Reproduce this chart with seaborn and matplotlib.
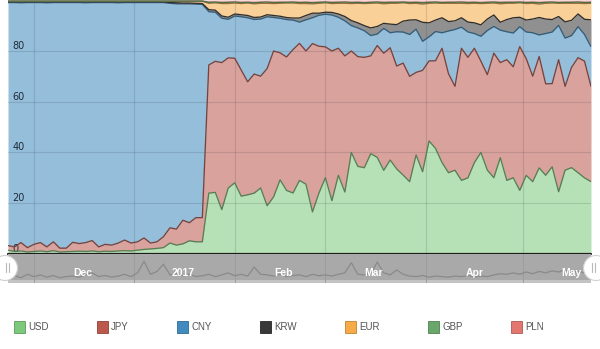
import numpy as np
import pandas as pd
import matplotlib
matplotlib.use("Agg")
import matplotlib.pyplot as plt
import matplotlib.patches as mpatches
import matplotlib.colors as mcolors
from matplotlib.transforms import blended_transform_factory
import seaborn as sns

sns.set_theme(style="white")
plt.rcParams['font.family'] = ['Liberation Sans Narrow', 'Liberation Sans', 'DejaVu Sans']

# ---- data: shares (%) of trading volume by currency, 2-day steps ----
dates = pd.date_range("2016-11-23", periods=91, freq="2D")

currencies = ["USD", "JPY", "CNY", "KRW", "EUR", "GBP", "PLN"]

usd = [1.5, 1.0, 1.2, 0.8, 1.0, 1.2, 0.9, 1.3, 0.8, 0.9,
       1.0, 1.1, 1.0, 1.2, 0.9, 1.1, 1.0, 1.2, 1.3, 1.2,
       1.5, 1.8, 2.0, 2.2, 2.5, 4.3, 3.5, 4.0, 5.2, 4.8,
       4.8, 24, 24.2, 17.5, 26, 28, 22.8, 23.3, 24, 26,
       19, 22.5, 29.2, 25, 24, 29, 27.5, 16.6, 24, 30,
       21, 31, 24.4, 40, 34.5, 34, 39.5, 38, 33, 37,
       33.5, 31, 28.5, 39, 32.5, 44.5, 41.5, 36, 32, 33,
       29, 30, 36, 40, 33, 30, 38, 29, 30, 25,
       31, 28.5, 34, 31, 34.3, 24.5, 33, 34, 32, 30,
       28.5]

jpy = [1.8, 1.8, 3.3, 1.7, 2.8, 3.3, 1.9, 3.5, 1.5, 1.4,
       3.6, 3.0, 3.5, 4.1, 1.9, 2.7, 2.5, 3.1, 4.2, 3.1,
       3.3, 4.5, 2.3, 2.6, 4.3, 6.0, 6.3, 9.3, 7.1, 9.5,
       9.5, 50.5, 51.5, 58, 51.3, 49, 49.7, 44.5, 47, 44,
       54, 57.5, 50, 52.5, 56.4, 54, 52.5, 66.4, 57.8, 51.4,
       59, 50, 53.6, 40, 43.2, 43.5, 38.5, 44, 46.2, 44.2,
       40.5, 44, 41.5, 32.5, 40, 31.5, 34.5, 45, 39, 33,
       52, 47.5, 45, 36, 37.6, 49, 37.5, 47.5, 43.7, 56.5,
       46, 41.5, 44, 36, 32.7, 52, 33, 39.5, 45.3, 46,
       37.5]

cny = [95.7, 96.2, 94.6, 96.5, 95.2, 94.6, 96.2, 94.2, 96.8, 96.7,
       94.4, 95.0, 94.5, 93.7, 96.3, 95.2, 95.5, 94.7, 93.6, 94.7,
       94.2, 92.6, 94.7, 94.1, 92.0, 88.4, 88.8, 85.2, 86.2, 84.1,
       84.0, 21, 19.3, 17.5, 15.2, 16.6, 21, 25.2, 21.5, 22.5,
       20.4, 13.2, 13.6, 14.7, 11.6, 8.4, 12.3, 10.2, 12.2, 12.8,
       14.2, 12.2, 13.8, 10, 11.3, 10.5, 8, 4.5, 9.8, 5.9,
       13.5, 12.2, 16.5, 17, 11.5, 9.5, 11.5, 6.1, 16.8, 22.4,
       8.3, 10, 5.8, 9.8, 17.4, 10.5, 12.8, 11, 13.3, 7.8,
       10.5, 17.1, 8.5, 19.8, 20.3, 13.5, 19, 12.5, 12.2, 10.5,
       15.6]

krw = [0.3, 0.3, 0.4, 0.3, 0.3, 0.3, 0.4, 0.3, 0.3, 0.3,
       0.3, 0.3, 0.4, 0.3, 0.3, 0.3, 0.3, 0.4, 0.3, 0.3,
       0.3, 0.3, 0.3, 0.3, 0.3, 0.3, 0.4, 0.3, 0.3, 0.3,
       0.3, 0.8, 0.8, 0.9, 0.8, 0.8, 0.8, 0.9, 0.8, 0.8,
       0.8, 0.8, 0.8, 0.8, 0.8, 1.6, 1.7, 1.8, 0.8, 0.8,
       1.0, 1.3, 1.7, 2.0, 2.0, 2.0, 3.0, 3.0, 2.0, 3.4,
       2.8, 4.3, 5.7, 3.7, 7.5, 5.5, 4.5, 5.9, 3.7, 3.4,
       3.7, 3.9, 4.2, 4.5, 4.5, 4.5, 3.1, 4.8, 6.0, 3.7,
       4.7, 5.4, 6.9, 5.7, 4.9, 3.5, 6.4, 6.0, 5.0, 6.0,
       10.6]

eur = [0.2, 0.2, 0.2, 0.2, 0.2, 0.2, 0.2, 0.2, 0.2, 0.2,
       0.2, 0.2, 0.2, 0.2, 0.2, 0.2, 0.2, 0.2, 0.2, 0.2,
       0.2, 0.2, 0.2, 0.2, 0.2, 0.5, 0.6, 0.7, 0.7, 0.8,
       0.9, 2.5, 2.9, 4.9, 5.4, 4.3, 4.4, 4.9, 5.4, 5.4,
       4.5, 4.7, 5.1, 5.7, 5.9, 5.7, 4.7, 3.7, 3.9, 3.7,
       3.5, 4.2, 5.2, 6.7, 7.7, 8.7, 9.7, 9.2, 7.7, 8.2,
       8.4, 7.2, 6.5, 6.5, 7.2, 7.7, 6.7, 5.7, 7.2, 6.9,
       5.7, 7.3, 7.7, 8.4, 6.2, 4.7, 7.3, 6.4, 5.7, 5.7,
       6.5, 6.2, 5.3, 6.2, 6.5, 5.2, 7.3, 6.7, 4.2, 6.2,
       6.5]

gbp = [0.1] * 31 + [
       0.4, 0.3, 0.4, 0.5, 0.4, 0.4, 0.3, 0.4, 0.4,
       0.5, 0.4, 0.4, 0.3, 0.4, 0.4, 0.5, 0.4, 0.4, 0.3,
       0.4, 0.4, 0.5, 0.4, 0.4, 0.3, 0.4, 0.4, 0.5, 0.4,
       0.4, 0.3, 0.4, 0.4, 0.5, 0.4, 0.4, 0.3, 0.4, 0.4,
       0.5, 0.4, 0.4, 0.3, 0.4, 0.4, 0.5, 0.4, 0.4, 0.3,
       0.4, 0.4, 0.5, 0.4, 0.4, 0.3, 0.4, 0.4, 0.5, 0.4,
       0.4]

pln = [0.4] * 31 + [
       0.9, 0.8, 1.0, 0.9, 0.8, 1.0, 0.9, 1.1, 0.9,
       0.8, 1.0, 0.9, 0.9, 0.8, 1.0, 0.9, 1.1, 0.9, 0.8,
       1.0, 0.9, 0.8, 1.0, 0.9, 1.1, 0.9, 0.8, 1.0, 0.9,
       0.9, 0.8, 1.0, 0.9, 1.1, 0.9, 0.8, 1.0, 0.9, 0.9,
       0.8, 1.0, 0.9, 1.1, 0.9, 0.8, 1.0, 0.9, 0.9, 0.8,
       1.0, 0.9, 1.1, 0.9, 0.8, 1.0, 0.9, 0.9, 0.8, 1.0,
       0.9]

# overall volume shown in the range navigator (relative units)
nav_volume = [20, 25, 18, 30, 22, 28, 20, 26, 18, 22,
              24, 20, 28, 35, 22, 26, 20, 24, 30, 22,
              35, 75, 30, 40, 65, 28, 32, 25, 30, 22,
              25, 30, 22, 28, 35, 25, 30, 24, 55, 30,
              28, 24, 30, 22, 26, 28, 22, 30, 25, 28,
              24, 30, 35, 70, 30, 28, 32, 72, 35, 28,
              45, 30, 24, 22, 26, 20, 24, 22, 20, 24,
              22, 26, 20, 24, 22, 28, 32, 30, 35, 30,
              38, 32, 40, 35, 42, 38, 45, 36, 40, 35,
              32]

y_ticks = [0, 20, 40, 60, 80]
colors = ["#6ec46e", "#b5473a", "#2c7fb8", "#222222", "#f7a234", "#5a9e5a", "#e0675e"]

df = pd.DataFrame({"USD": usd, "JPY": jpy, "CNY": cny, "KRW": krw,
                   "EUR": eur, "GBP": gbp, "PLN": pln}, index=dates)
shares = df.div(df.sum(axis=1), axis=0) * 100  # percent stacking
cum = shares.cumsum(axis=1)


def mix(c1, c2, t):
    a = np.array(mcolors.to_rgb(c1))
    b = np.array(mcolors.to_rgb(c2))
    return tuple(a * (1 - t) + b * t)


fig = plt.figure(figsize=(6, 3.49), dpi=100)
fig.patch.set_facecolor("white")

# ---- main stacked area ----
ax = fig.add_axes([8 / 600, 1 - 254 / 349, 583 / 600, 254 / 349])
ax.stackplot(shares.index, shares.T.values, colors=colors, alpha=0.5, linewidth=0, zorder=1)
for name, col in zip(currencies[:-1], colors[:-1]):
    ax.plot(cum.index, cum[name], color=mix(col, "#3c3c3c", 0.5), lw=0.95, zorder=3)

month_starts = pd.date_range("2016-12-01", "2017-05-01", freq="MS")
ax.set_xlim(dates[0], dates[-1])
ax.set_ylim(0, 100)
ax.set_xticks(month_starts)
ax.set_xticklabels([])
ax.tick_params(axis="x", length=0)
ax.set_yticks(y_ticks)
ax.set_yticklabels([str(v) for v in y_ticks])
ax.tick_params(axis="y", length=0, pad=-3, labelsize=7, labelcolor="#1f2b38")
for lab in ax.get_yticklabels():
    lab.set_horizontalalignment("left")
    lab.set_verticalalignment("bottom")
    lab.set_fontfamily("DejaVu Sans")
ax.grid(True, color="#3a4650", alpha=0.18, lw=0.8)
ax.set_axisbelow(False)
for s in ax.spines.values():
    s.set_visible(False)
ax.axhline(0, color="#1e1e1e", lw=1.6, clip_on=False, zorder=6)

# ---- range navigator ----
axn = fig.add_axes([8 / 600, 1 - 283 / 349, 583 / 600, 29 / 349])
axn.set_facecolor("#a9a9a9")
axn.axhspan(0, 10, color="#c3c3c3", lw=0, zorder=0)
sns.lineplot(x=dates, y=nav_volume, ax=axn, color="#8a8a8a", lw=0.9)
axn.set_xlim(dates[0], dates[-1])
axn.set_ylim(0, 100)
axn.set_xticks(month_starts)
axn.set_xticklabels([])
axn.set_yticks([])
axn.tick_params(length=0)
axn.grid(True, axis="x", color="#9c9c9c", lw=0.7)
axn.set_xlabel("")
axn.set_ylabel("")
for s in axn.spines.values():
    s.set_visible(False)
mid_month = pd.to_datetime(["2016-12-16", "2017-01-16", "2017-02-16",
                            "2017-03-16", "2017-04-16", "2017-05-16"])
nav_labels = ["Dec", "2017", "Feb", "Mar", "Apr", "May"]
trans = blended_transform_factory(axn.transData, axn.transAxes)
for d, t in zip(mid_month, nav_labels):
    axn.text(d, 0.36, t, transform=trans, ha="center", va="center",
             color="white", fontsize=7.5, fontweight="bold")

# ---- navigator handles ----
ov = fig.add_axes([0, 0, 1, 1], zorder=10)
ov.set_xlim(0, 600)
ov.set_ylim(349, 0)
ov.axis("off")
ov.patch.set_alpha(0)
for cx, bars in [(5, (6.3, 8.6)), (596, (592.4, 594.7))]:
    ov.add_patch(mpatches.Circle((cx, 268), 12.5, facecolor="white",
                                 edgecolor="#d0d0d0", lw=0.8))
    for bx in bars:
        ov.plot([bx, bx], [263, 272], color="#b8b8b8", lw=0.8)

# ---- legend ----
handles = [mpatches.Patch(facecolor=c, edgecolor=mix(c, "#000000", 0.25), lw=0.6, alpha=0.9)
           for c in colors]
fig.legend(handles, currencies, loc="lower left",
           bbox_to_anchor=(14 / 600, 1 - 333 / 349, 530 / 600, 16 / 349),
           ncol=7, mode="expand", frameon=False, handlelength=1.1, handleheight=1.5,
           handletextpad=0.35, borderaxespad=0, borderpad=0, fontsize=7, labelcolor="#555555")

fig.savefig("out.png", dpi=100, facecolor="white")
